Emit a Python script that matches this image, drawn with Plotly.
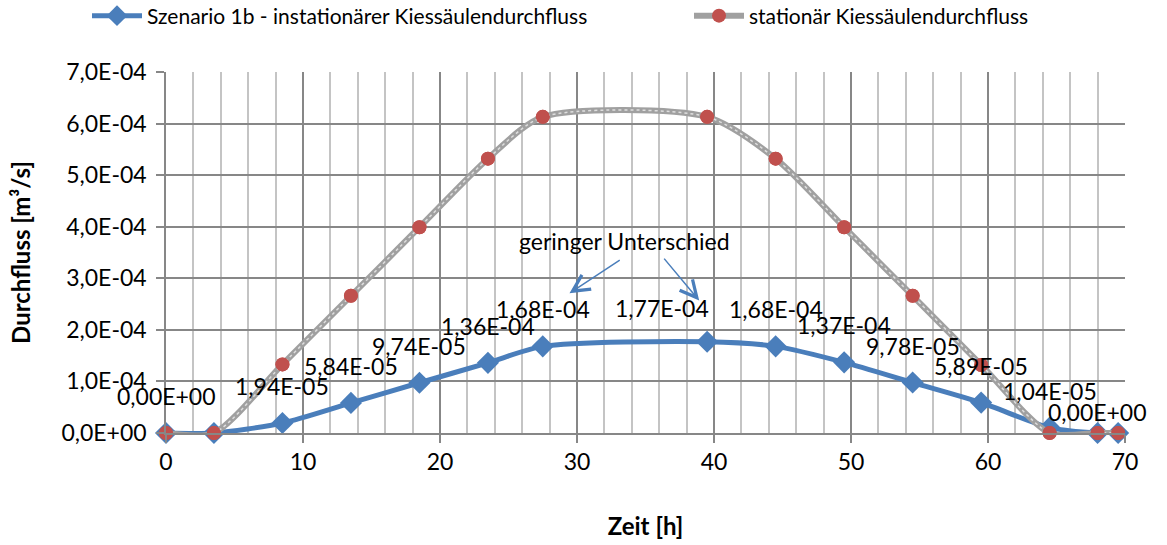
import plotly.graph_objects as go

# Zeitachse [h] und Durchflüsse [m³/s]
zeit = [0, 3.5, 8.5, 13.5, 18.5, 23.5, 27.5, 39.5, 44.5, 49.5, 54.5, 59.5, 64.5, 68, 69.5]
q_instationaer = [0, 0, 1.94e-5, 5.84e-5, 9.74e-5, 1.36e-4, 1.68e-4, 1.77e-4,
                  1.68e-4, 1.37e-4, 9.78e-5, 5.89e-5, 1.04e-5, 0, 0]
q_stationaer = [0, 0, 1.33e-4, 2.66e-4, 3.99e-4, 5.32e-4, 6.13e-4, 6.13e-4,
                5.32e-4, 3.99e-4, 2.66e-4, 1.32e-4, 0, 0, 0]

name_instationaer = "Szenario 1b - instationärer Kiessäulendurchfluss"
name_stationaer = "stationär Kiessäulendurchfluss"

y_ticks = [0, 1e-4, 2e-4, 3e-4, 4e-4, 5e-4, 6e-4, 7e-4]
x_ticks = [0, 10, 20, 30, 40, 50, 60, 70]

# Punkte mit Datenbeschriftung und deren Versatz (px) relativ zum Punkt
label_idx = [0, 2, 3, 4, 5, 6, 7, 8, 9, 10, 11, 12, 13]
label_shift = {7: (-45, 34), 13: (0, 21)}

FONT = "Lato, 'Open Sans', sans-serif"
BLUE = "#4A7EBB"
RED = "#C0504D"
SMOOTH = 0.75


def de_sci(v, digits):
    return f"{v:.{digits}E}".replace(".", ",")


fig = go.Figure()

fig.add_trace(go.Scatter(
    x=zeit, y=q_instationaer, name=name_instationaer,
    mode="lines+markers", legend="legend",
    line=dict(color=BLUE, width=5, shape="spline", smoothing=SMOOTH),
    marker=dict(symbol="diamond", size=17, color=BLUE),
    cliponaxis=False,
))

# stationäre Linie: graues Band mit hellem Punktmuster
fig.add_trace(go.Scatter(
    x=zeit, y=q_stationaer, name=name_stationaer,
    mode="lines+markers", legend="legend2",
    line=dict(color="#A0A0A0", width=6, shape="spline", smoothing=SMOOTH),
    marker=dict(symbol="circle", size=14, color=RED),
    cliponaxis=False,
))
fig.add_trace(go.Scatter(
    x=zeit, y=q_stationaer, mode="lines", showlegend=False, hoverinfo="skip",
    line=dict(color="#DEDEDE", width=1.5, dash="dot", shape="spline", smoothing=SMOOTH),
    cliponaxis=False,
))
fig.add_trace(go.Scatter(
    x=zeit, y=q_stationaer, mode="markers", showlegend=False, hoverinfo="skip",
    marker=dict(symbol="circle", size=14, color=RED),
    cliponaxis=False,
))

annotations = []
for i in label_idx:
    dx, dy = label_shift.get(i, (0, 37))
    annotations.append(dict(
        x=zeit[i], y=q_instationaer[i], xref="x", yref="y",
        text=de_sci(q_instationaer[i], 2), showarrow=False,
        xshift=dx, yshift=dy, font=dict(family=FONT, size=23, color="black"),
    ))

annotations.append(dict(
    x=33.47, y=3.72e-4, xref="x", yref="y", text="geringer Unterschied",
    showarrow=False, font=dict(family=FONT, size=23, color="black"),
))
for head, tail in [((29.45, 2.71e-4), (33.23, 3.37e-4)),
                   ((38.92, 2.57e-4), (36.27, 3.41e-4))]:
    annotations.append(dict(
        x=head[0], y=head[1], ax=tail[0], ay=tail[1],
        xref="x", yref="y", axref="x", ayref="y", text="",
        showarrow=True, arrowhead=5, arrowsize=2.2, arrowwidth=1.5,
        arrowcolor=BLUE,
    ))

legend_common = dict(
    orientation="h", xanchor="left", yref="container", yanchor="middle",
    xref="container", y=1 - 16 / 545,
    font=dict(family=FONT, size=21, color="black"),
    itemwidth=50, bgcolor="rgba(0,0,0,0)", borderwidth=0,
)

fig.update_layout(
    width=1167, height=545,
    margin=dict(l=166, r=42, t=72, b=112),
    paper_bgcolor="white", plot_bgcolor="white",
    font=dict(family=FONT, size=23, color="black"),
    showlegend=True,
    legend=dict(x=87 / 1167, **legend_common),
    legend2=dict(x=689 / 1167, **legend_common),
    annotations=annotations,
)

fig.update_xaxes(
    range=[0, 70], tickvals=x_ticks, ticktext=[str(t) for t in x_ticks],
    showgrid=True, gridcolor="#878787", gridwidth=1.5,
    minor=dict(dtick=2, showgrid=True, gridcolor="#C4C4C4", gridwidth=1.5),
    ticks="outside", ticklen=8, tickcolor="#878787", tickwidth=1.5,
    showline=True, linecolor="#878787", linewidth=1.5,
    zeroline=False, automargin=False,
    title=dict(text="<b>Zeit [h]</b>", standoff=44,
               font=dict(family=FONT, size=24)),
    tickfont=dict(family=FONT, size=23),
)
fig.update_yaxes(
    range=[0, 7e-4], tickvals=y_ticks, ticktext=[de_sci(v, 1) for v in y_ticks],
    showgrid=True, gridcolor="#878787", gridwidth=1.5,
    ticks="outside", ticklen=8, tickcolor="#878787", tickwidth=1.5,
    showline=True, linecolor="#878787", linewidth=1.5,
    zeroline=False, ticklabelstandoff=5, automargin=False,
    title=dict(text="<b>Durchfluss [m³/s]</b>", standoff=24,
               font=dict(family=FONT, size=24)),
    tickfont=dict(family=FONT, size=23),
)

fig.write_html("out.html")
